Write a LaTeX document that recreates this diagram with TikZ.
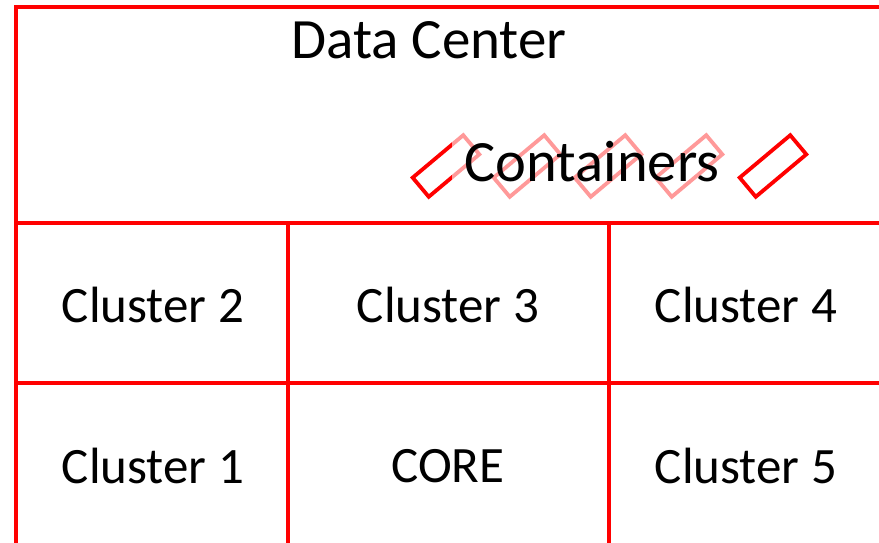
\documentclass[tikz,border=0pt]{standalone}
\usepackage{fontspec}
\setmainfont{Carlito}
\begin{document}
\begin{tikzpicture}[x=1pt,y=-1pt,
  gridline/.style={draw=red,line width=4.5pt,line cap=rect},
  label/.style={font=\fontsize{51}{56}\selectfont,inner sep=0pt},
  biglabel/.style={font=\fontsize{57}{62}\selectfont,inner sep=0pt},
  box/.style={draw=red,line width=3.8pt,minimum width=66pt,minimum height=25pt,rotate=40,inner sep=0pt},
  veil/.style={fill=white,fill opacity=0.6,text opacity=1,minimum width=280pt,minimum height=80pt,inner sep=0pt}]
  \useasboundingbox (0,0) rectangle (879,543);

  % frame corners and grid junctions
  \coordinate (tl) at (16,7);
  \coordinate (tr) at (882,7);
  \coordinate (bl) at (16,546);
  \coordinate (m1l) at (16,223);
  \coordinate (m1r) at (882,223);
  \coordinate (m2l) at (16,383);
  \coordinate (m2r) at (882,383);
  \coordinate (v1t) at (288,223);
  \coordinate (v1b) at (288,546);
  \coordinate (v2t) at (609,223);
  \coordinate (v2b) at (609,546);

  \draw[gridline] (bl) -- (tl) -- (tr);
  \draw[gridline] (m1l) -- (m1r);
  \draw[gridline] (m2l) -- (m2r);
  \draw[gridline] (v1t) -- (v1b);
  \draw[gridline] (v2t) -- (v2b);

  % containers
  \foreach \i/\cx in {1/446,2/527,3/608,4/689,5/773}
    \node[box] (c\i) at (\cx,166) {};

  \node[biglabel,veil,font=\fontsize{58.5}{63}\selectfont] (containers) at (592,162) {Containers};

  \node[biglabel] (dc) at (429,40) {Data Center};
  \node[label] (cl2) at (153,305) {Cluster 2};
  \node[label] (cl3) at (448,305) {Cluster 3};
  \node[label] (cl4) at (746,305) {Cluster 4};
  \node[label] (cl1) at (153,466) {Cluster 1};
  \node[label] (core) at (448,466) {CORE};
  \node[label] (cl5) at (746,466) {Cluster 5};
\end{tikzpicture}
\end{document}
